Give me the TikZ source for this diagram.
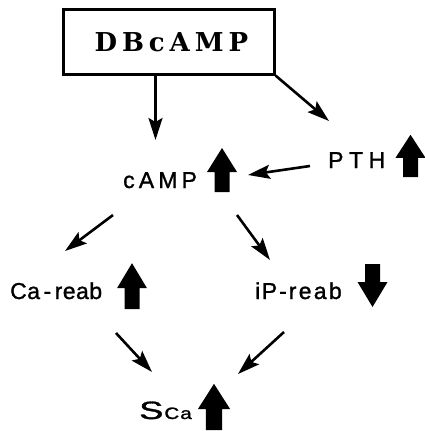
\documentclass[tikz,border=0pt]{standalone}
\usepackage{fontspec}
\usepackage{graphicx}
\setmainfont{Liberation Serif}
\newfontfamily\labfont[FakeBold=1.2]{Liberation Sans}
\newfontfamily\boxfont[LetterSpace=19]{DejaVu Serif}
\usetikzlibrary{arrows.meta}

\tikzset{
  conn/.style={line width=2.6pt, -{Stealth[length=22pt,width=14pt,inset=4pt]}},
  lab/.style={inner sep=0pt, anchor=base west, font=\labfont\fontsize{23}{23}\selectfont},
  % thick filled arrows marking a rise or a fall; drawn from the foot of the shaft
  uparrow/.pic={\fill (-7.5,0) -- (-7.5,-20) -- (-15,-20) -- (0,-44) -- (15,-20) -- (7.5,-20) -- (7.5,0) -- cycle;},
  downarrow/.pic={\fill (-7.5,0) -- (-7.5,18) -- (-15,18) -- (0,43) -- (15,18) -- (7.5,18) -- (7.5,0) -- cycle;}
}

\begin{document}
\begin{tikzpicture}[x=1pt,y=-1pt]
\useasboundingbox (0,0) rectangle (425,431);

% boxed agent at the top
\node[draw, line width=2.6pt, minimum width=211pt, minimum height=65pt, inner sep=0pt,
      anchor=north west, font=\boxfont\bfseries\fontsize{26}{26}\selectfont] (dbc) at (62,8)
  {\hspace*{5pt}DBcAMP};

% labels
\node[lab] (camp) at (123,188) {\addfontfeatures{LetterSpace=18}cAMP};
\node[lab] (pth)  at (328,168) {\addfontfeatures{LetterSpace=24}PTH};
\node[lab] (ca)   at (10,299)  {\addfontfeatures{LetterSpace=2}Ca\kern3.5pt-\kern3.5pt reab};
\node[lab] (ip)   at (255,299) {\addfontfeatures{LetterSpace=10}i\kern1.5pt P\kern2pt-\kern2pt reab};
\node[inner sep=0pt, anchor=base west, font=\labfont] (sca) at (139,419)
  {\scalebox{1.45}[1]{\fontsize{25}{25}\selectfont S}\kern1pt\scalebox{1.25}[1]{\fontsize{16.5}{16.5}\selectfont\addfontfeatures{LetterSpace=5}Ca}};

% arrow ends
\coordinate (campIn)  at (155.5,140);
\coordinate (pthIn)   at (329,121);
\coordinate (pthOut)  at (310,166);
\coordinate (campInR) at (248,175);
\coordinate (campL)   at (113,215);
\coordinate (caIn)    at (65,251);
\coordinate (campR)   at (237,215);
\coordinate (ipIn)    at (270,260);
\coordinate (caOut)   at (116,333);
\coordinate (scaInL)  at (152,372);
\coordinate (ipOut)   at (284,332);
\coordinate (scaInR)  at (238,374);

% connectors
\draw[conn] (dbc.south -| campIn) -- (campIn);
\draw[conn] (dbc.south east) -- (pthIn);
\draw[conn] (pthOut) -- (campInR);
\draw[conn] (campL) -- (caIn);
\draw[conn] (campR) -- (ipIn);
\draw[conn] (caOut) -- (scaInL);
\draw[conn] (ipOut) -- (scaInR);

% rise / fall markers
\pic at (222,192) {uparrow};
\pic[yscale=0.96] at (410.5,177) {uparrow};
\pic[yscale=1.04] at (132,309) {uparrow};
\pic at (372.5,264) {downarrow};
\pic[xscale=1.07,yscale=1.05] at (214,430) {uparrow};
\end{tikzpicture}
\end{document}
